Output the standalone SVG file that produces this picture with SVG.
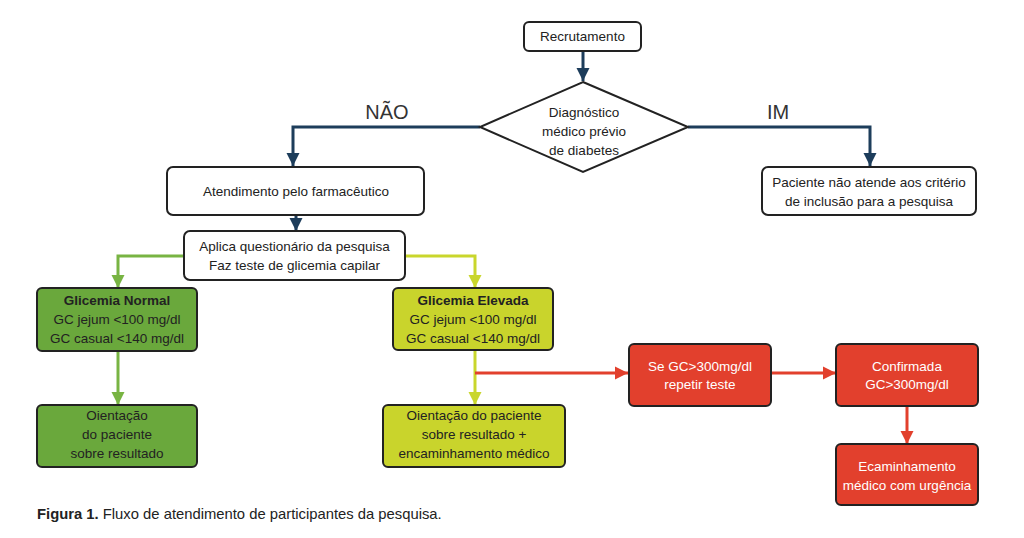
<svg xmlns="http://www.w3.org/2000/svg" width="1024" height="538" viewBox="0 0 1024 538">
<defs>
<style>
text{font-family:"Liberation Sans",Arial,sans-serif;font-size:13.5px;fill:#222;text-anchor:middle}
.box{fill:#fff;stroke:#222;stroke-width:2}
.g{fill:#6aa83c;stroke:#222;stroke-width:2}
.y{fill:#c9d42c;stroke:#222;stroke-width:2}
.r{fill:#e2402d;stroke:#222;stroke-width:2}
.w{fill:#fff}
.b{font-weight:bold}
.lab{font-size:20px;fill:#333}
.navy{stroke:#1d3d5b;stroke-width:3;fill:none}
.gl{stroke:#78b443;stroke-width:3;fill:none}
.yl{stroke:#c9d62c;stroke-width:3;fill:none}
.rl{stroke:#e2402d;stroke-width:3;fill:none}
</style>
<marker id="an" viewBox="0 0 10 10" refX="10" refY="5" markerWidth="4.5" markerHeight="4.5" markerUnits="strokeWidth" orient="auto"><path d="M0,0L10,5L0,10z" fill="#1d3d5b"/></marker>
<marker id="ag" viewBox="0 0 10 10" refX="10" refY="5" markerWidth="4.5" markerHeight="4.5" markerUnits="strokeWidth" orient="auto"><path d="M0,0L10,5L0,10z" fill="#78b443"/></marker>
<marker id="ay" viewBox="0 0 10 10" refX="10" refY="5" markerWidth="4.5" markerHeight="4.5" markerUnits="strokeWidth" orient="auto"><path d="M0,0L10,5L0,10z" fill="#c9d62c"/></marker>
<marker id="ar" viewBox="0 0 10 10" refX="10" refY="5" markerWidth="4.5" markerHeight="4.5" markerUnits="strokeWidth" orient="auto"><path d="M0,0L10,5L0,10z" fill="#e2402d"/></marker>
</defs>
<rect width="1024" height="538" fill="#fff"/>
<g id="connectors">
<path class="navy" d="M583,51V81" marker-end="url(#an)"/>
<path class="navy" d="M480,127H293V166" marker-end="url(#an)"/>
<path class="navy" d="M688,127H870V166" marker-end="url(#an)"/>
<path class="navy" d="M296,215V231" marker-end="url(#an)"/>
<path class="gl" d="M184,256H118V288" marker-end="url(#ag)"/>
<path class="yl" d="M405,256H475V288" marker-end="url(#ay)"/>
<path class="gl" d="M118,351V405" marker-end="url(#ag)"/>
<path class="yl" d="M475,350V405" marker-end="url(#ay)"/>
<path class="rl" d="M475,373H628" marker-end="url(#ar)"/>
<path class="rl" d="M771,373H836" marker-end="url(#ar)"/>
<path class="rl" d="M907,406V444" marker-end="url(#ar)"/>
<text class="lab" x="387" y="119">NÃO</text>
<text class="lab" x="778" y="119">IM</text>
</g>
<g id="recrutamento"><rect class="box" x="524" y="22" width="117" height="29" rx="5"/><text x="582.5" y="41">Recrutamento</text></g>
<g id="diagnostico"><path class="box" d="M583,82L688,127L583,172L480,127Z"/><text x="584" y="117">Diagnóstico</text><text x="584" y="136">médico prévio</text><text x="584" y="155">de diabetes</text></g>
<g id="atendimento"><rect class="box" x="167" y="167" width="257" height="48" rx="6"/><text x="296" y="196">Atendimento pelo farmacêutico</text></g>
<g id="paciente"><rect class="box" x="762" y="167" width="214" height="48" rx="6"/><text x="869" y="187">Paciente não atende aos critério</text><text x="869" y="206">de inclusão para a pesquisa</text></g>
<g id="aplica"><rect class="box" x="184" y="231" width="221" height="49" rx="6"/><text x="294.5" y="251">Aplica questionário da pesquisa</text><text x="294.5" y="270">Faz teste de glicemia capilar</text></g>
<g id="normal"><rect class="g" x="37" y="288" width="160" height="63" rx="5"/><text class="b" x="117" y="305">Glicemia Normal</text><text x="117" y="324">GC jejum &lt;100 mg/dl</text><text x="117" y="343">GC casual &lt;140 mg/dl</text></g>
<g id="orient-normal"><rect class="g" x="37" y="405" width="160" height="62" rx="5"/><text x="117" y="420">Oientação</text><text x="117" y="439">do paciente</text><text x="117" y="458">sobre resultado</text></g>
<g id="elevada"><rect class="y" x="393" y="288" width="160" height="62" rx="5"/><text class="b" x="473" y="305">Glicemia Elevada</text><text x="473" y="324">GC jejum &lt;100 mg/dl</text><text x="473" y="343">GC casual &lt;140 mg/dl</text></g>
<g id="orient-elevada"><rect class="y" x="383" y="405" width="182" height="62" rx="5"/><text x="474" y="420">Oientação do paciente</text><text x="474" y="439">sobre resultado +</text><text x="474" y="458">encaminhamento médico</text></g>
<g id="repetir"><rect class="r" x="629" y="344" width="142" height="62" rx="5"/><text class="w" x="700" y="371">Se GC&gt;300mg/dl</text><text class="w" x="700" y="389">repetir teste</text></g>
<g id="confirmada"><rect class="r" x="836" y="344" width="142" height="62" rx="5"/><text class="w" x="907" y="371">Confirmada</text><text class="w" x="907" y="389">GC&gt;300mg/dl</text></g>
<g id="urgencia"><rect class="r" x="836" y="444" width="142" height="61" rx="5"/><text class="w" x="907" y="471">Ecaminhamento</text><text class="w" x="907" y="490">médico com urgência</text></g>
<g id="caption"><text x="37" y="519" style="text-anchor:start;font-size:14.8px"><tspan class="b">Figura 1.</tspan> Fluxo de atendimento de participantes da pesquisa.</text></g>
</svg>
